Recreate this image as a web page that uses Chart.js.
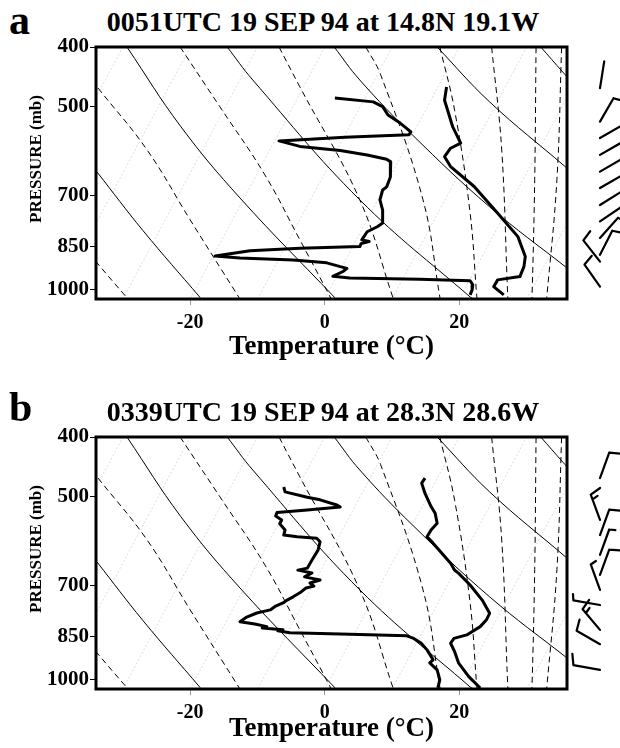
<!DOCTYPE html>
<html>
<head>
<meta charset="utf-8">
<script src="https://cdn.jsdelivr.net/npm/chart.js@4.4.1/dist/chart.umd.min.js"></script>
<style>
  body { margin: 0; background: #fff; width: 620px; height: 748px; overflow: hidden; position: relative; font-family: "Liberation Serif", serif; }
  canvas { position: absolute; left: 0; }
  .letter { position: absolute; font-weight: bold; font-size: 42px; line-height: 1; }
  .title { position: absolute; left: 0; width: 646px; text-align: center; font-weight: bold; font-size: 28px; line-height: 1; white-space: nowrap; }
  .ylab { position: absolute; font-weight: bold; font-size: 17px; line-height: 1; white-space: nowrap; transform-origin: 0 0; transform: rotate(-90deg); }
</style>
</head>
<body>
<div class="letter" style="left:9px;top:-1px">a</div>
<div class="title" style="top:8px">0051UTC 19 SEP 94 at 14.8N 19.1W</div>
<canvas id="chartA" width="620" height="374" style="top:0"></canvas>
<div class="ylab" style="left:27px;top:223px">PRESSURE (mb)</div>

<div class="letter" style="left:9px;top:386px">b</div>
<div class="title" style="top:398px">0339UTC 19 SEP 94 at 28.3N 28.6W</div>
<canvas id="chartB" width="620" height="358" style="top:390px"></canvas>
<div class="ylab" style="left:27px;top:613px">PRESSURE (mb)</div>

<script>
// axis ticks
const pressureTicks = [400, 500, 700, 850, 1000];
const tempTicks = [-20, 0, 20];

// background diagram, [x, pressure]
const dryAdiabats = [
  [[-33.85, 641], [-27.0, 800], [-18.5, 1030]],
  [[-29.4, 400], [-21.4, 540], [-12.6, 707], [1.5, 1030]],
  [[-14.5, 400], [-10.7, 453], [5.2, 712], [21.6, 1027], [22.2, 1036]],
  [[1.4, 400], [5.2, 453], [13.0, 557], [24.5, 731], [35.8, 917], [36.6, 930]],
  [[16.7, 400], [24.5, 492], [35.8, 629], [36.6, 640]],
  [[32.1, 400], [35.4, 440], [36.6, 455]]
];
const moistAdiabats = [
  [[-35.0, 870], [-33.85, 903], [-29.5, 1027], [-29.0, 1040]],
  [[-33.7, 467], [-26.4, 590], [-20.0, 768], [-12.8, 1027], [-12.5, 1040]],
  [[-21.5, 400], [-15.6, 501], [-8.9, 648], [-3.7, 828], [0.8, 1027], [1.0, 1040]],
  [[-6.8, 400], [-3.7, 465], [5.2, 712], [10.1, 1027], [10.3, 1040]],
  [[6.1, 400], [8.3, 444], [14.6, 712], [17.1, 1027], [17.2, 1040]],
  [[17.1, 400], [19.3, 508], [21.6, 748], [22.6, 1027], [22.7, 1040]],
  [[24.8, 400], [26.3, 590], [27.2, 1027], [27.3, 1040]],
  [[31.4, 400], [31.2, 660], [30.8, 1027], [30.7, 1040]],
  [[35.2, 400], [34.5, 660], [33.0, 1027], [32.9, 1040]]
];
const isotherms = [
  [[-50, 1035], [-30, 400]], [[-40, 1035], [-20, 400]], [[-30, 1035], [-10, 400]],
  [[-20, 1035], [0, 400]], [[-10, 1035], [10, 400]], [[0, 1035], [20, 400]],
  [[10, 1035], [30, 400]], [[20, 1035], [40, 400]], [[30, 1035], [50, 400]]
];

// panel a sounding
const tempA = [[18.1, 465], [17.8, 489], [19.0, 540], [20.2, 575], [18.7, 586], [17.8, 605], [18.7, 628],
  [22.2, 677], [25.7, 749], [28.7, 818], [29.8, 882], [29.6, 916], [29.0, 951], [25.7, 963], [25.1, 988], [26.6, 1019]];
const dewA = [[1.5, 485], [7.2, 492], [8.6, 501], [9.4, 517], [11.2, 533], [12.8, 551], [12.5, 557], [3.0, 562],
  [-6.8, 570], [-3.7, 582], [2.3, 591], [6.3, 601], [9.2, 611], [9.8, 617], [9.7, 641], [9.8, 653], [9.2, 678],
  [8.6, 686], [8.2, 712], [8.6, 740], [8.6, 777], [7.8, 788], [6.3, 803], [5.5, 828], [6.6, 833], [5.4, 840],
  [5.2, 849], [-3.7, 855], [-11.1, 863], [-16.3, 880], [-12.6, 887], [-4.7, 893], [0.3, 903], [2.3, 916],
  [3.3, 922], [2.7, 933], [1.2, 950], [3.7, 956], [14.1, 961], [21.6, 966], [22.0, 981], [21.9, 1000], [21.6, 1019]];
const windPA = [467, 530, 564, 601, 640, 681, 726, 772, 822, 876, 899, 988];
const windDirA = [9, 30, 60, 60, 60, 60, 58, 56, 42, 27, 322, 325];
const windSpdA = [0, 5, 10, 10, 10, 10, 10, 10, 10, 10, 10, 10];

// panel b sounding
const tempB = [[14.9, 467], [14.4, 476], [14.9, 495], [15.8, 520], [16.4, 533], [16.7, 554], [15.8, 568], [15.2, 583],
  [16.1, 597], [18.7, 644], [19.3, 661], [19.9, 669], [21.6, 699], [23.4, 740], [24.5, 778], [24.0, 798],
  [23.1, 818], [21.1, 844], [19.2, 855], [18.7, 871], [19.3, 899], [19.9, 939], [21.4, 988], [23.1, 1031]];
const dewB = [[-6.1, 483], [-5.9, 492], [-2.6, 502], [-0.7, 507], [1.8, 517], [2.3, 521], [-2.6, 527], [-7.1, 532],
  [-7.3, 539], [-6.4, 547], [-6.7, 555], [-5.9, 568], [-6.1, 579], [-4.1, 583], [-1.2, 586], [-0.7, 594],
  [-1.0, 613], [-1.9, 636], [-2.6, 656], [-4.0, 661], [-1.9, 668], [-3.0, 678], [-0.7, 686], [-2.2, 694],
  [-1.6, 702], [-2.8, 707], [-3.7, 720], [-4.7, 731], [-5.6, 740], [-6.2, 748], [-7.3, 757], [-8.1, 768],
  [-10.1, 777], [-11.6, 789], [-12.6, 803], [-10.4, 810], [-8.6, 818], [-9.3, 822], [-6.2, 828], [-7.0, 831],
  [-5.2, 837], [2.3, 841], [12.2, 847], [13.1, 854], [14.3, 870], [15.2, 893], [16.1, 927], [15.6, 938],
  [16.7, 963], [17.1, 1000], [16.8, 1031]];
const windPB = [467, 547, 579, 624, 673, 712, 754, 828, 874, 963];
const windDirB = [20, 340, 20, 20, 20, 340, 280, 320, 300, 280];
const windSpdB = [10, 15, 10, 5, 10, 5, 5, 15, 10, 10];

const serif = 'Liberation Serif';

function pts(list) {
  return list.map(([x, p]) => ({ x: x, y: p }));
}

function bgLine(list, style) {
  return Object.assign({ data: pts(list), showLine: true, pointRadius: 0, fill: false,
    borderColor: '#000', borderWidth: 1, tension: 0.4, clip: 0, order: 2 }, style);
}

// thick frame round the plot
const framePlugin = {
  id: 'frame',
  afterDatasetsDraw(chart) {
    const a = chart.chartArea, c = chart.ctx;
    c.save();
    c.lineWidth = 3;
    c.strokeStyle = '#000';
    c.strokeRect(a.left, a.top, a.right - a.left, a.bottom - a.top);
    c.restore();
  }
};

// wind barbs to the right of the plot
const barbPlugin = {
  id: 'barbs',
  afterDraw(chart, args, opts) {
    const c = chart.ctx, y = chart.scales.y;
    c.save();
    c.strokeStyle = '#000';
    c.lineWidth = 2.2;
    c.lineCap = 'round';
    opts.p.forEach((p, i) => {
      const bx = opts.x, by = y.getPixelForValue(p);
      const r = opts.dir[i] * Math.PI / 180;
      const ux = Math.sin(r), uy = -Math.cos(r);
      const tx = bx + ux * 27, ty = by + uy * 27;
      c.beginPath();
      c.moveTo(bx, by);
      c.lineTo(tx, ty);
      let s = opts.spd[i], k = 0;
      const nx = -uy, ny = ux;
      while (s >= 10) {
        const sx = tx - ux * k * 5, sy = ty - uy * k * 5;
        c.moveTo(sx, sy);
        c.lineTo(sx + nx * 11 + ux * 3, sy + ny * 11 + uy * 3);
        s -= 10; k++;
      }
      if (s >= 5) {
        const sx = tx - ux * k * 5, sy = ty - uy * k * 5;
        c.moveTo(sx, sy);
        c.lineTo(sx + nx * 6 + ux * 1.5, sy + ny * 6 + uy * 1.5);
      }
      c.stroke();
    });
    c.restore();
  }
};

function makePanel(id, temp, dew, windP, windDir, windSpd, xAxisHeight, titlePad) {
  const datasets = [];
  datasets.push(Object.assign(bgLine(temp, {}), { borderWidth: 3, tension: 0, order: 0, borderJoinStyle: 'round' }));
  datasets.push(Object.assign(bgLine(dew, {}), { borderWidth: 3, tension: 0, order: 0, borderJoinStyle: 'round' }));
  dryAdiabats.forEach(l => datasets.push(bgLine(l, { borderWidth: 1 })));
  moistAdiabats.forEach(l => datasets.push(bgLine(l, { borderWidth: 1, borderDash: [6, 4] })));
  isotherms.forEach(l => datasets.push(bgLine(l, { borderWidth: 0.8, borderColor: 'rgba(0,0,0,0.18)', borderDash: [2, 2], tension: 0 })));

  return new Chart(document.getElementById(id), {
    type: 'scatter',
    data: { datasets: datasets },
    options: {
      responsive: false,
      animation: false,
      devicePixelRatio: 1,
      layout: { padding: { top: 47, right: 53, left: 0, bottom: 0 } },
      plugins: {
        legend: { display: false },
        tooltip: { enabled: false },
        barbs: { x: 600, p: windP, dir: windDir, spd: windSpd }
      },
      scales: {
        x: {
          type: 'linear', min: -34, max: 36,
          afterBuildTicks: s => { s.ticks = tempTicks.map(v => ({ value: v })); },
          afterFit: s => { s.height = xAxisHeight; },
          grid: { drawOnChartArea: false, drawTicks: true, tickLength: 6, color: '#999' },
          border: { display: false },
          ticks: { color: '#000', padding: 6, font: { family: serif, weight: 'bold', size: 20 }, callback: v => String(v) },
          title: { display: true, text: 'Temperature (°C)', color: '#000',
            font: { family: serif, weight: 'bold', size: 27 }, padding: { top: 0, bottom: titlePad } }
        },
        y: {
          type: 'logarithmic', reverse: true, min: 400, max: 1035,
          afterBuildTicks: s => { s.ticks = pressureTicks.map(v => ({ value: v })); },
          afterFit: s => { s.width = 96; },
          grid: { drawOnChartArea: false, drawTicks: true, tickLength: 6, color: '#000' },
          border: { display: false },
          ticks: { color: '#000', padding: 1, font: { family: serif, weight: 'bold', size: 21 }, callback: v => String(v) }
        }
      }
    },
    plugins: [framePlugin, barbPlugin]
  });
}

makePanel('chartA', tempA, dewA, windPA, windDirA, windSpdA, 75, 11);
makePanel('chartB', tempB, dewB, windPB, windDirB, windSpdB, 59, 3);
</script>
</body>
</html>
